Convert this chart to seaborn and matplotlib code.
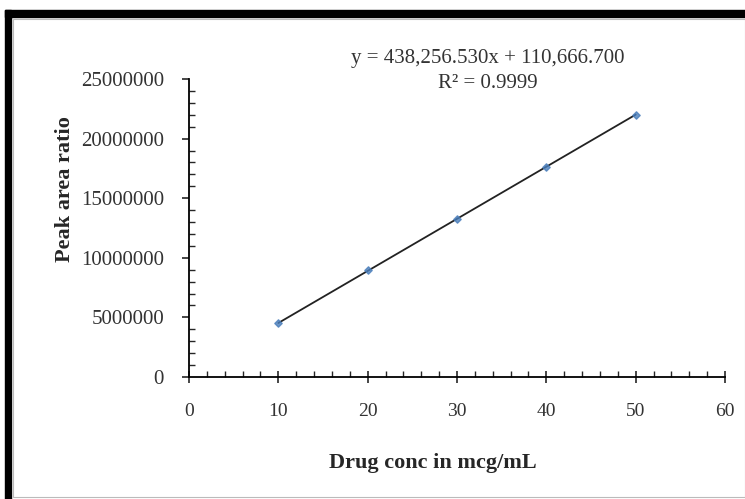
import matplotlib
matplotlib.use("Agg")
import matplotlib.pyplot as plt
import seaborn as sns
import pandas as pd
from matplotlib.patches import Rectangle
from matplotlib.ticker import MultipleLocator

# calibration data
conc = [10, 20, 30, 40, 50]
peak_area = [4500000, 8950000, 13250000, 17650000, 22000000]
equation = "y = 438,256.530x + 110,666.700"
r_squared = "R² = 0.9999"

df = pd.DataFrame({"conc": conc, "area": peak_area})

sns.set_style("white")
plt.rcParams['font.family'] = ['Liberation Serif', 'DejaVu Serif']

fig = plt.figure(figsize=(7.45, 4.99), dpi=100)
ax = fig.add_axes([0.2537, 0.2445, 0.7195, 0.5972])

sns.regplot(data=df, x="conc", y="area", ax=ax, ci=None,
            marker="D", scatter_kws={"s": 14, "color": "#4a7ebb", "zorder": 3},
            line_kws={"color": "#222222", "lw": 1.3})

ax.set_xlim(0, 60)
ax.set_ylim(0, 25000000)
ax.xaxis.set_major_locator(MultipleLocator(10))
ax.xaxis.set_minor_locator(MultipleLocator(2))
ax.yaxis.set_major_locator(MultipleLocator(5000000))
ax.yaxis.set_minor_locator(MultipleLocator(1000000))
ax.ticklabel_format(axis="y", style="plain", useOffset=False)

sns.despine(ax=ax)
for s in ["left", "bottom"]:
    ax.spines[s].set_color("black")
    ax.spines[s].set_linewidth(1.3)

ax.tick_params(axis="x", which="major", direction="inout", length=9, width=1.2,
               bottom=True, pad=14, labelsize=14, labelcolor="#333333")
ax.tick_params(axis="x", which="minor", direction="in", length=4, width=1, bottom=True)
ax.tick_params(axis="y", which="major", direction="out", length=5, width=1.2,
               left=True, pad=13, labelsize=15, labelcolor="#333333")
ax.tick_params(axis="y", which="minor", direction="in", length=4, width=1, left=True)

ax.set_xlabel("Drug conc in mcg/mL", fontsize=16, fontweight="bold")
ax.xaxis.set_label_coords(0.455, -0.255)
ax.set_ylabel("Peak area ratio", fontsize=16, fontweight="bold")
ax.yaxis.set_label_coords(-0.212, 0.63)

fig.text(0.655, 0.882, equation, ha="center", va="center", fontsize=15, color="#333333")
fig.text(0.655, 0.832, r_squared, ha="center", va="center", fontsize=15, color="#333333")

# black frame at top and left, as in the source image
fig.patches.append(Rectangle((0.007, 0.0), 0.008, 0.98, transform=fig.transFigure,
                             color="black", zorder=10))
fig.patches.append(Rectangle((0.007, 0.965), 0.993, 0.015, transform=fig.transFigure,
                             color="black", zorder=10))
fig.patches.append(Rectangle((0.017, 0.004), 0.983, 0.958, transform=fig.transFigure,
                             fill=False, edgecolor="#bbbbbb", lw=0.8, zorder=10))

fig.savefig("out.png", dpi=100)
